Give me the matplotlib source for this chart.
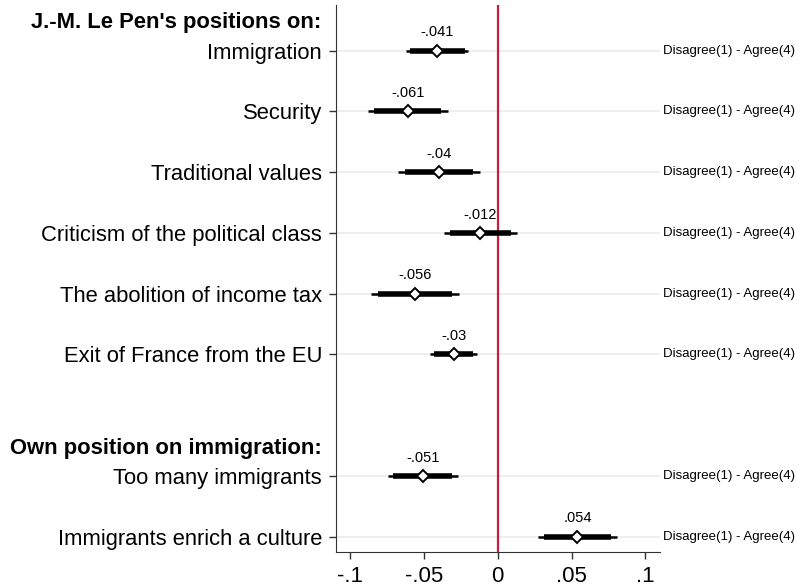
import matplotlib.pyplot as plt
import matplotlib.transforms as mtransforms

plt.rcParams['font.family'] = ['Liberation Sans', 'DejaVu Sans']

# coefficients and confidence intervals (outer = 95%, inner = 90%)
labels = ["Immigration", "Security", "Traditional values",
          "Criticism of the political class", "The abolition of income tax",
          "Exit of France from the EU", "Too many immigrants",
          "Immigrants enrich a culture"]
rows = [0, 1, 2, 3, 4, 5, 7, 8]
coef = [-0.041, -0.061, -0.040, -0.012, -0.056, -0.030, -0.051, 0.054]
coef_text = ["-.041", "-.061", "-.04", "-.012", "-.056", "-.03", "-.051", ".054"]
lo95 = [-0.0622, -0.0882, -0.0674, -0.0362, -0.0860, -0.0457, -0.0746, 0.0276]
hi95 = [-0.0201, -0.0339, -0.0122, 0.0131, -0.0260, -0.0143, -0.0267, 0.0811]
lo90 = [-0.0595, -0.0837, -0.0632, -0.0327, -0.0810, -0.0432, -0.0711, 0.0315]
hi90 = [-0.0225, -0.0383, -0.0168, 0.0087, -0.0310, -0.0168, -0.0309, 0.0765]
scale_text = "Disagree(1) - Agree(4)"
headers = ["J.-M. Le Pen's positions on:", "Own position on immigration:"]
header_rows = [-0.5, 6.5]
xticks = [-0.1, -0.05, 0, 0.05, 0.1]
xticklabels = ["-.1", "-.05", "0", ".05", ".1"]

fig = plt.figure(figsize=(8, 5.87), dpi=100)
ax = fig.add_axes([0.42, 0.06, 0.405, 0.9315])

for r in rows:
    ax.axhline(r, color='#ebebeb', lw=1.2, zorder=0)

ax.axvline(0, color='#d01c3c', lw=1.6, zorder=1)

ax.hlines(rows, lo95, hi95, color='black', lw=1.8, zorder=2)
ax.hlines(rows, lo90, hi90, color='black', lw=4, zorder=2)
ax.plot(coef, rows, 'D', ms=6, mfc='white', mec='black', mew=1.4, ls='none', zorder=3)

for r, c, t in zip(rows, coef, coef_text):
    ax.annotate(t, (c, r), xytext=(0, 8), textcoords='offset points',
                ha='center', va='bottom', fontsize=10.5)

trans = mtransforms.blended_transform_factory(ax.transAxes, ax.transData)
for r in rows:
    ax.text(1.01, r, scale_text, transform=trans, ha='left', va='center', fontsize=9.5)

for h, r in zip(headers, header_rows):
    ax.annotate(h, (0, r), xycoords=trans, xytext=(-10.5, -2), textcoords='offset points',
                ha='right', va='center', fontsize=15.8, fontweight='bold')

ax.set_yticks(rows)
ax.set_yticklabels(labels, fontsize=15.8)
ax.set_ylim(8.25, -0.75)
ax.set_xlim(-0.1097, 0.110)
ax.set_xticks(xticks)
ax.set_xticklabels(xticklabels, fontsize=16)
ax.tick_params(axis='both', direction='out', length=5, width=1, color='#333333')
ax.tick_params(axis='y', pad=5)
ax.tick_params(axis='x', pad=5)

ax.spines['top'].set_visible(False)
ax.spines['right'].set_visible(False)
ax.spines['left'].set_color('#333333')
ax.spines['bottom'].set_color('#333333')

fig.savefig('out.png', dpi=100)
